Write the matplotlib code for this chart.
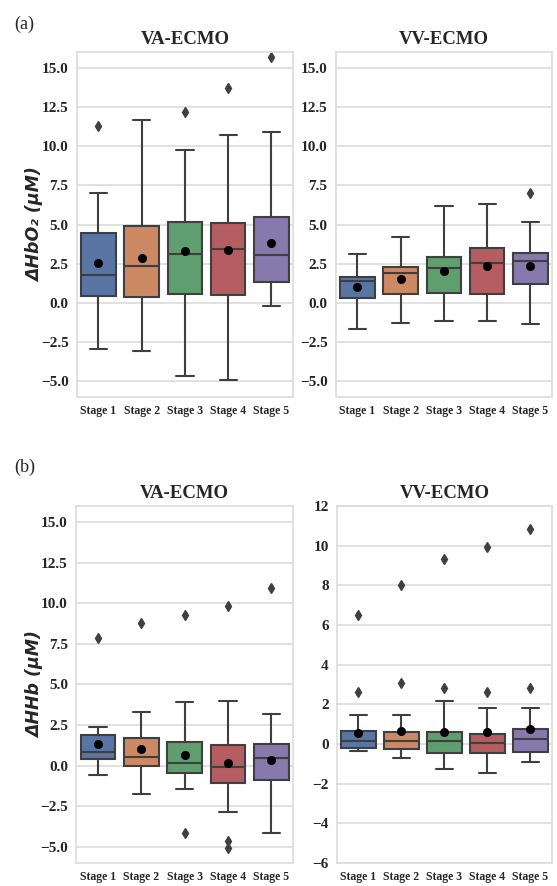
import matplotlib
matplotlib.use("Agg")
import matplotlib.pyplot as plt
import seaborn as sns

sns.set_style("whitegrid")

stages = ["Stage 1", "Stage 2", "Stage 3", "Stage 4", "Stage 5"]

# (a) dHbO2, VA-ECMO
va_o2_lo = [-2.95, -3.05, -4.64, -4.92, -0.22]
va_o2_q1 = [0.43, 0.37, 0.54, 0.52, 1.36]
va_o2_med = [1.79, 2.38, 3.10, 3.44, 3.06]
va_o2_q3 = [4.47, 4.94, 5.19, 5.13, 5.49]
va_o2_hi = [7.03, 11.68, 9.76, 10.71, 10.92]
va_o2_mean = [2.57, 2.89, 3.31, 3.37, 3.80]
va_o2_out = [[11.28], [], [12.21], [13.71], [15.72]]

# (a) dHbO2, VV-ECMO
vv_o2_lo = [-1.64, -1.30, -1.17, -1.13, -1.36]
vv_o2_q1 = [0.33, 0.54, 0.64, 0.60, 1.19]
vv_o2_med = [1.43, 1.91, 2.23, 2.57, 2.70]
vv_o2_q3 = [1.66, 2.29, 2.93, 3.52, 3.18]
vv_o2_hi = [3.14, 4.24, 6.18, 6.31, 5.19]
vv_o2_mean = [1.03, 1.51, 2.04, 2.34, 2.34]
vv_o2_out = [[], [], [], [], [6.99]]

# (b) dHHb, VA-ECMO
va_hb_lo = [-0.61, -1.74, -1.43, -2.85, -4.14]
va_hb_q1 = [0.42, -0.04, -0.45, -1.06, -0.88]
va_hb_med = [0.83, 0.50, 0.13, -0.08, 0.46]
va_hb_q3 = [1.89, 1.67, 1.44, 1.28, 1.32]
va_hb_hi = [2.38, 3.31, 3.90, 4.00, 3.20]
va_hb_mean = [1.32, 1.05, 0.68, 0.17, 0.37]
va_hb_out = [[7.84], [8.76], [9.28, -4.16], [9.81, -4.65, -5.10], [10.92]]

# (b) dHHb, VV-ECMO
vv_hb_lo = [-0.37, -0.69, -1.24, -1.46, -0.92]
vv_hb_q1 = [-0.18, -0.23, -0.44, -0.44, -0.40]
vv_hb_med = [0.17, 0.14, 0.14, 0.07, 0.26]
vv_hb_q3 = [0.66, 0.62, 0.62, 0.49, 0.74]
vv_hb_hi = [1.45, 1.45, 2.17, 1.82, 1.82]
vv_hb_mean = [0.57, 0.64, 0.62, 0.61, 0.73]
vv_hb_out = [[6.52, 2.61], [8.0, 3.05], [9.31, 2.80], [9.93, 2.61], [10.82, 2.81]]

colors = ["#5875a4", "#cc8963", "#5f9e6e", "#b55d60", "#857aab"]
line_c = "#3f3f3f"
serif = "Liberation Serif"

fig = plt.figure(figsize=(5.57, 8.86), dpi=100)


def draw_panel(rect, lo, q1, med, q3, hi, mean, out, title, ylim, yticks, ylabel=None):
    ax = fig.add_axes(rect)
    stats = []
    for i in range(len(stages)):
        stats.append(dict(whislo=lo[i], q1=q1[i], med=med[i], q3=q3[i],
                          whishi=hi[i], mean=mean[i], fliers=out[i]))
    bp = ax.bxp(stats, positions=range(len(stages)), widths=0.8, patch_artist=True,
                showmeans=True, showfliers=True,
                boxprops=dict(edgecolor=line_c, linewidth=1.5),
                medianprops=dict(color=line_c, linewidth=1.5),
                whiskerprops=dict(color=line_c, linewidth=1.5),
                capprops=dict(color=line_c, linewidth=1.5),
                meanprops=dict(marker="o", markerfacecolor="black",
                               markeredgecolor="black", markersize=5.5),
                flierprops=dict(marker="d", markerfacecolor=line_c,
                                markeredgecolor=line_c, markersize=5))
    for patch, c in zip(bp["boxes"], colors):
        patch.set_facecolor(c)
    # shorter caps like seaborn
    for cap in bp["caps"]:
        x0, x1 = cap.get_xdata()
        xm = (x0 + x1) / 2
        cap.set_xdata([xm - 0.2, xm + 0.2])
    ax.set_xlim(-0.5, 4.5)
    ax.set_ylim(*ylim)
    ax.set_yticks(yticks)
    ax.set_xticks(range(len(stages)))
    ax.set_xticklabels(stages, fontfamily=serif, fontweight="bold", fontsize=8.5, color="#262626")
    if isinstance(yticks[0], float):
        labs = [f"{v:.1f}".replace("-", "\u2212") for v in yticks]
    else:
        labs = [f"{v}".replace("-", "\u2212") for v in yticks]
    ax.set_yticklabels(labs, fontfamily=serif, fontweight="bold", fontsize=11, color="#262626")
    ax.tick_params(axis="both", length=0, pad=6)
    ax.grid(axis="x", visible=False)
    ax.grid(axis="y", color="#dcdcdc", linewidth=1.2)
    for s in ax.spines.values():
        s.set_color("#dcdcdc")
        s.set_linewidth(1.2)
    ax.set_title(title, fontfamily=serif, fontweight="bold", fontsize=13.5, color="#262626", pad=6)
    if ylabel:
        ax.set_ylabel(ylabel, fontfamily="DejaVu Sans", fontweight="bold",
                      fontstyle="oblique", fontsize=12.5, color="#262626")
        ax.yaxis.set_label_coords(-0.15, 0.5)
    return ax


big_ticks = [-5.0, -2.5, 0.0, 2.5, 5.0, 7.5, 10.0, 12.5, 15.0]

draw_panel([0.138, 0.552, 0.388, 0.389], va_o2_lo, va_o2_q1, va_o2_med, va_o2_q3, va_o2_hi,
           va_o2_mean, va_o2_out, "VA-ECMO", (-6, 16), big_ticks, "\u0394HbO\u2082 (\u03bcM)")
draw_panel([0.603, 0.552, 0.388, 0.389], vv_o2_lo, vv_o2_q1, vv_o2_med, vv_o2_q3, vv_o2_hi,
           vv_o2_mean, vv_o2_out, "VV-ECMO", (-6, 16), big_ticks)
draw_panel([0.137, 0.026, 0.389, 0.403], va_hb_lo, va_hb_q1, va_hb_med, va_hb_q3, va_hb_hi,
           va_hb_mean, va_hb_out, "VA-ECMO", (-6, 16), big_ticks, "\u0394HHb (\u03bcM)")
draw_panel([0.605, 0.026, 0.386, 0.403], vv_hb_lo, vv_hb_q1, vv_hb_med, vv_hb_q3, vv_hb_hi,
           vv_hb_mean, vv_hb_out, "VV-ECMO", (-6, 12), [-6, -4, -2, 0, 2, 4, 6, 8, 10, 12])

fig.text(0.025, 0.972, "(a)", fontfamily=serif, fontsize=13, va="center", ha="left")
fig.text(0.025, 0.472, "(b)", fontfamily=serif, fontsize=13, va="center", ha="left")

fig.savefig("out.png", dpi=100)
